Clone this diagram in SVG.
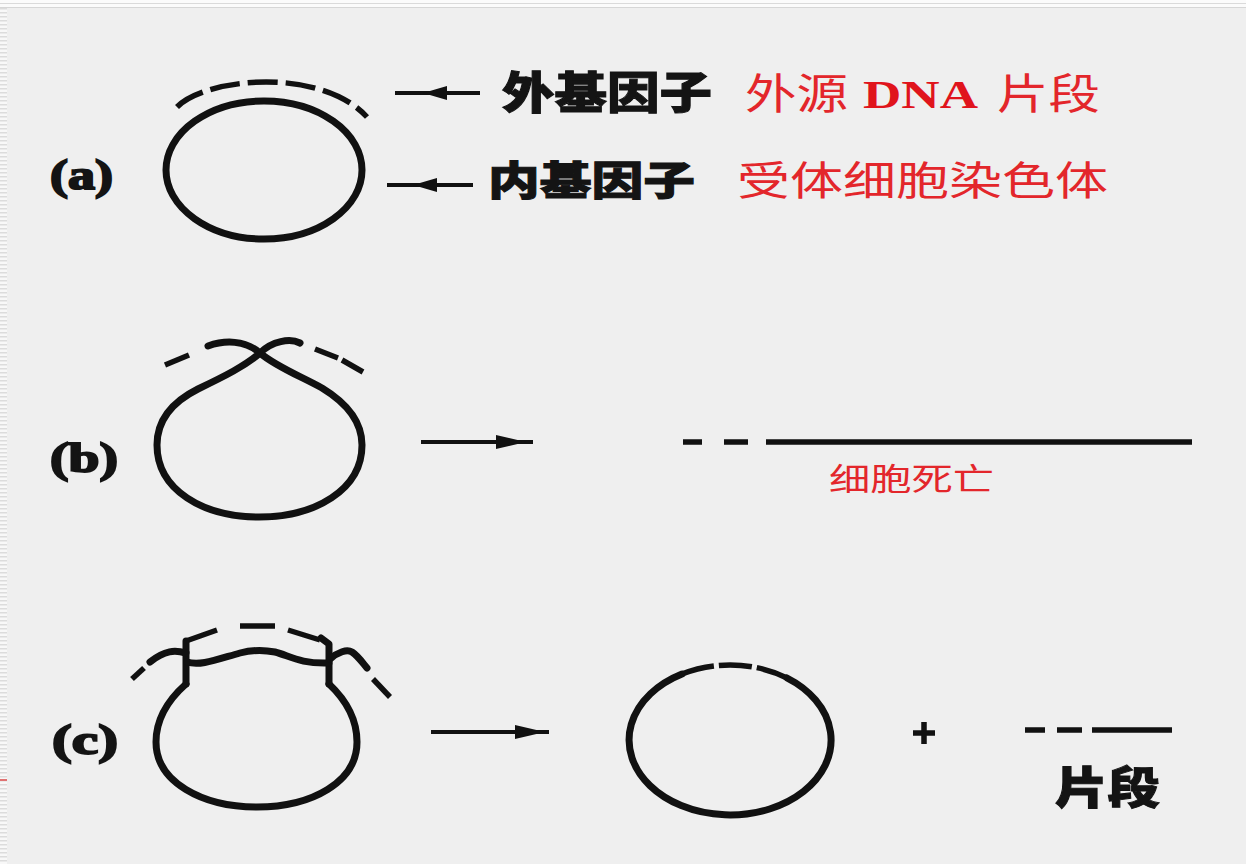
<svg xmlns="http://www.w3.org/2000/svg" xmlns:xlink="http://www.w3.org/1999/xlink" width="1246" height="864" viewBox="0 0 1246 864">
  <defs>
    <style>
      .ink { fill: none; stroke: #111; stroke-width: 7; stroke-linecap: round; stroke-linejoin: round; }
      .dash { fill: none; stroke: #111; stroke-width: 5.5; stroke-linecap: butt; }
      .shaft { fill: none; stroke: #111; stroke-width: 4; }
      .head { fill: #111; }
      .cjkb { font-family: "Noto Sans CJK SC", "Noto Sans", sans-serif; font-weight: 900; fill: #141414; stroke: #141414; stroke-width: 1; }
      .red { font-family: "Noto Sans CJK SC", "Noto Sans", sans-serif; font-weight: normal; fill: #e3262b; }
      .redlat { font-family: "Liberation Serif", serif; font-weight: bold; fill: #e0141c; }
      .lbl { font-family: "Liberation Serif", serif; font-weight: bold; fill: #141414; stroke: #141414; stroke-width: 2; }
    </style>
    <!-- spindle-shaped arrowhead, tip at the origin, pointing right -->
    <path id="head" d="M-30,-7 L0,0 L-30,7 Z"/>
    <pattern id="stripes" width="8" height="4" patternUnits="userSpaceOnUse">
      <rect width="8" height="4" fill="#f8f8f8"/>
      <rect y="0" width="8" height="1.5" fill="#dcdcdc"/>
    </pattern>
  </defs>

  <!-- page -->
  <rect width="1246" height="864" fill="#efefef"/>
  <rect width="1246" height="8" fill="#fbfbfb"/>
  <line x1="0" y1="3.5" x2="1246" y2="3.5" stroke="#dadada" stroke-width="1"/>
  <line x1="0" y1="7.5" x2="1246" y2="7.5" stroke="#d6d6d6" stroke-width="1"/>
  <rect x="0" y="8" width="7" height="856" fill="url(#stripes)"/>
  <rect x="0" y="779" width="7" height="2" fill="#e07272"/>

  <!-- (a) intact recipient chromosome with donor fragment -->
  <g id="node-a">
    <text class="lbl" x="50" y="189" font-size="42" textLength="63" lengthAdjust="spacingAndGlyphs">(a)</text>
    <ellipse class="ink" cx="264" cy="170" rx="98" ry="69"/>
    <path class="dash" d="M177,107 C205,78 320,66 367,117" stroke-dasharray="30 8"/>
  </g>

  <g id="label-exo">
    <text class="cjkb" x="502" y="109" font-size="44" textLength="210" lengthAdjust="spacingAndGlyphs">外基因子</text>
    <text class="red" x="745" y="109" font-size="42" textLength="103" lengthAdjust="spacingAndGlyphs">外源</text>
    <text class="redlat" x="863" y="108" font-size="40" textLength="115" lengthAdjust="spacingAndGlyphs">DNA</text>
    <text class="red" x="997" y="109" font-size="42" textLength="103" lengthAdjust="spacingAndGlyphs">片段</text>
  </g>

  <g id="label-endo">
    <text class="cjkb" x="488" y="195" font-size="40" textLength="207" lengthAdjust="spacingAndGlyphs">内基因子</text>
    <text class="red" x="737" y="195" font-size="40" textLength="371" lengthAdjust="spacingAndGlyphs">受体细胞染色体</text>
  </g>

  <!-- (b) single crossover: ring opens into a linear molecule -->
  <g id="node-b">
    <text class="lbl" x="50" y="472" font-size="42" textLength="68" lengthAdjust="spacingAndGlyphs">(b)</text>
    <path class="ink" d="M208,346 C225,340 245,340 260,353 C275,366 300,376 322,388 C350,405 362,425 362,445 C362,490 315,517 259,517 C203,517 157,490 157,445 C157,420 172,402 198,389 C225,376 245,366 260,353 C272,341 290,338 300,343"/>
    <path class="dash" d="M165,365 L189,355"/>
    <path class="dash" d="M315,349 L338,358 M342,360 L363,372"/>
  </g>

  <g id="node-b-result">
    <path class="dash" d="M683,442 L702,442 M724,442 L748,442 M766,442 L1192,442"/>
    <text class="red" x="829" y="490" font-size="31" textLength="165" lengthAdjust="spacingAndGlyphs">细胞死亡</text>
  </g>

  <!-- (c) double crossover: ring kept, fragment released -->
  <g id="node-c">
    <text class="lbl" x="52" y="754" font-size="42" textLength="66" lengthAdjust="spacingAndGlyphs">(c)</text>
    <path class="ink" d="M186,684 C168,700 156,718 156,742 C156,782 202,807 257,807 C312,807 357,782 357,742 C357,718 346,700 329,684"/>
    <path class="ink" stroke-width="8" d="M186,684 L186,641"/>
    <path class="ink" stroke-width="8" d="M321,638 L329,644 L329,684"/>
    <path class="ink" stroke-width="5.5" d="M187,662 C200,666 215,660 240,653 C255,649 265,650 275,652 C290,656 300,664 329,663"/>
    <path class="ink" stroke-width="5.5" d="M186,653 C175,650 165,650 150,662"/>
    <path class="ink" stroke-width="5.5" d="M330,659 C338,652 347,649 352,652 C358,656 362,662 367,668"/>
    <path class="dash" d="M132,679 L144,668"/>
    <path class="dash" d="M186,641 L217,630 M240,626 L275,626 M288,630 L320,640"/>
    <path class="dash" d="M373,679 L390,697"/>
  </g>

  <g id="node-c-ring">
    <path class="ink" d="M682,674 A101,75 0 1 0 787,678"/>
    <path class="dash" stroke-width="6.5" d="M682,674 A101,75 0 0 1 787,678" stroke-dasharray="33 5"/>
  </g>

  <g id="node-c-plus">
    <path d="M924,722 V744 M913,733 H935" fill="none" stroke="#111" stroke-width="5.5"/>
  </g>

  <g id="node-c-fragment">
    <path class="dash" d="M1025,730 L1045,730 M1057,730 L1082,730 M1092,730 L1172,730"/>
    <text class="cjkb" x="1055" y="804" font-size="44" textLength="105" lengthAdjust="spacingAndGlyphs">片段</text>
  </g>

  <!-- connectors -->
  <g id="connectors">
    <line class="shaft" x1="395" y1="93" x2="480" y2="93"/>
    <use xlink:href="#head" class="head" transform="translate(423,93) scale(-0.8,1)"/>
    <line class="shaft" x1="387" y1="185" x2="473" y2="185"/>
    <use xlink:href="#head" class="head" transform="translate(413,185) scale(-0.8,1)"/>
    <line class="shaft" x1="421" y1="442" x2="533" y2="442"/>
    <use xlink:href="#head" class="head" transform="translate(526,442)"/>
    <line class="shaft" x1="431" y1="732" x2="549" y2="732"/>
    <use xlink:href="#head" class="head" transform="translate(545,732)"/>
  </g>
</svg>
